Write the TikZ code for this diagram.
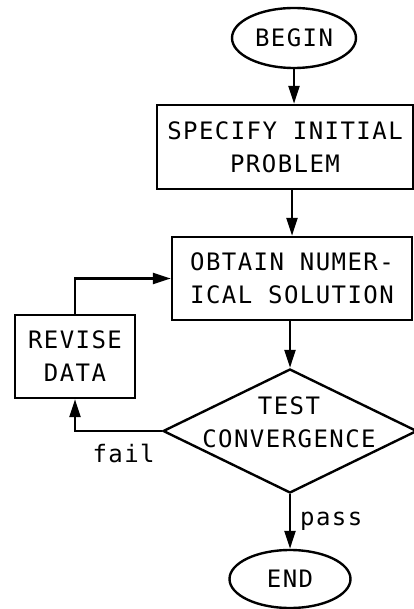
\documentclass[tikz,border=0pt]{standalone}
\usepackage{fontspec}
\setmonofont{DejaVu Sans Mono}[LetterSpace=6]
\usetikzlibrary{shapes.geometric,arrows.meta}
\begin{document}
\begin{tikzpicture}[x=1pt,y=-1pt,
  every node/.style={font=\ttfamily\fontsize{24}{33}\selectfont, line width=2.4pt},
  term/.style={ellipse, draw, inner sep=0pt},
  proc/.style={rectangle, draw, align=center, inner sep=0pt},
  decision/.style={diamond, draw, inner sep=0pt, aspect=2},
  link/.style={line width=2.4pt, -{Triangle[length=18pt,width=11pt]}},
  lbl/.style={inner sep=0pt, font=\ttfamily\fontsize{24}{33}\selectfont}
]
\useasboundingbox (0,0) rectangle (414,609);
\node[term, minimum width=124pt, minimum height=60pt] (begin) at (294,38) {BEGIN};
\node[proc, minimum width=256pt, minimum height=84pt] (spec) at (285,147) {SPECIFY INITIAL\\PROBLEM};
\node[proc, minimum width=240pt, minimum height=83pt] (obt) at (292,278.5) {OBTAIN NUMER-\\ICAL SOLUTION};
\node[decision, minimum width=254pt, minimum height=124pt] (test) at (290,431) {};
\node[align=center, inner sep=0pt] (testtxt) at (289,422) {TEST\\CONVERGENCE};
\node[proc, minimum width=120pt, minimum height=83pt] (rev) at (75,356.5) {REVISE\\DATA};
\node[term, minimum width=121pt, minimum height=58pt] (end) at (290,579) {END};

\draw[link] (begin.south) -- (begin.south |- spec.north);
\draw[link] (obt.north |- spec.south) -- (obt.north);
\draw[link] (test.north |- obt.south) -- (test.north);
\draw[link] (test.south) -- node[lbl, pos=0.5, right=9pt] (pass) {pass} (end.north);
\draw[link] (test.west) -| node[lbl, pos=0.22, below=12pt] (fail) {fail} (rev.south);
\draw[link] (rev.north) |- (obt.west);
\end{tikzpicture}
\end{document}
